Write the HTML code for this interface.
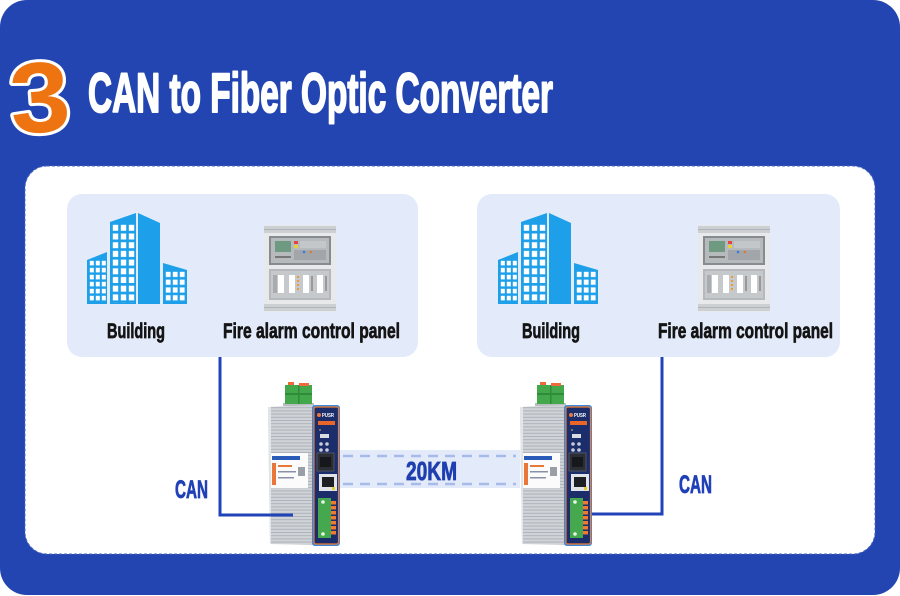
<!DOCTYPE html>
<html><head><meta charset="utf-8"><style>
html,body{margin:0;padding:0;background:#fff;}
svg{display:block;}
text{font-family:"Liberation Sans",Arial,sans-serif;font-weight:bold;}
</style></head><body>
<svg width="900" height="596" viewBox="0 0 900 596" xmlns="http://www.w3.org/2000/svg">
<defs>
  <pattern id="winA" patternUnits="userSpaceOnUse" x="2" y="48" width="6" height="7"><rect x="0.8" y="0.8" width="4" height="4.6" fill="#fff"/></pattern>
  <pattern id="winB" patternUnits="userSpaceOnUse" x="25" y="12" width="8" height="8.7"><rect x="0.8" y="0.8" width="5.4" height="6" fill="#fff"/></pattern>
  <pattern id="winC" patternUnits="userSpaceOnUse" x="78" y="59" width="7" height="7.8"><rect x="0.8" y="0.8" width="4.8" height="5.2" fill="#fff"/></pattern>
  <pattern id="fin" patternUnits="userSpaceOnUse" width="4" height="3.2"><rect width="4" height="3.2" fill="#d0d4d9"/><rect y="2.2" width="4" height="1" fill="#adb2b8"/></pattern>

  <g id="bld">
    <polygon points="0,48 20,40 20,92 0,92" fill="#1d9fe9"/>
    <rect x="2" y="48" width="17" height="42" fill="url(#winA)"/>
    <polygon points="23,10 49,1 49,92 23,92" fill="#1d9fe9"/>
    <rect x="25" y="12" width="23" height="79" fill="url(#winB)"/>
    <polygon points="51,1 73,11 73,92 51,92" fill="#1d9fe9"/>
    <polygon points="76,51 100,58 100,92 76,92" fill="#1d9fe9"/>
    <rect x="78" y="59" width="21" height="31" fill="url(#winC)"/>
  </g>

  <g id="fap">
    <rect x="0" y="0" width="72" height="87" fill="#e8e9ea"/>
    <rect x="0" y="1" width="72" height="7" fill="#cdd0d3"/>
    <rect x="0" y="4" width="72" height="1" fill="#b0b4b7"/>
    <rect x="0" y="79" width="72" height="7" fill="#cdd0d3"/>
    <rect x="0" y="82" width="72" height="1" fill="#b0b4b7"/>
    <rect x="5" y="11" width="62" height="29" fill="#868b90"/>
    <rect x="7" y="13" width="58" height="25" fill="#b6babd"/>
    <rect x="11" y="16" width="16" height="11" fill="#6e9a82"/>
    <rect x="30" y="16" width="4" height="3" fill="#e64444"/>
    <rect x="30" y="20" width="4" height="3" fill="#e8cf3c"/>
    <rect x="36" y="16" width="26" height="7" fill="#c4c7ca"/>
    <rect x="30" y="25" width="32" height="10" fill="#a2a6aa"/>
    <circle cx="40" cy="27" r="1.3" fill="#3a7ad8"/>
    <circle cx="47" cy="27" r="1.3" fill="#e07a30"/>
    <rect x="11" y="31" width="16" height="2" fill="#777"/>
    <rect x="5" y="44" width="62" height="31" fill="#b5b9bd"/>
    <rect x="7" y="46" width="58" height="27" fill="#c6c9cc"/>
    <rect x="9" y="50" width="4" height="18" fill="#a8acb0"/>
    <rect x="14" y="50" width="6" height="18" fill="#fff"/>
    <rect x="25" y="50" width="6" height="18" fill="#fff"/>
    <rect x="33" y="51" width="2" height="2" fill="#f09a30"/>
    <rect x="33" y="55" width="2" height="2" fill="#f09a30"/>
    <rect x="33" y="59" width="2" height="2" fill="#f09a30"/>
    <rect x="33" y="63" width="2" height="2" fill="#f09a30"/>
    <rect x="39" y="50" width="6" height="18" fill="#fff"/>
    <rect x="47" y="51" width="2" height="15" fill="#999"/>
    <rect x="53" y="50" width="6" height="18" fill="#fff"/>
    <rect x="61" y="51" width="2" height="15" fill="#999"/>
  </g>

  <g id="dev">
    <rect x="15" y="-2" width="31" height="3" fill="#b9bcc0"/>
    <rect x="17" y="-20" width="27" height="19" fill="#42a84b"/>
    <rect x="17" y="-12" width="27" height="2" fill="#2f8a3a"/>
    <rect x="30" y="-20" width="1.5" height="19" fill="#2f8a3a"/>
    <rect x="20" y="-23" width="6" height="3" fill="#ef6a3a"/>
    <rect x="31" y="-22" width="10" height="3" fill="#ef6a3a"/>
    <path d="M0,2 L45,0 L45,140 L2,139 Z" fill="url(#fin)"/>
    <path d="M0,2 L3,2 L3,139 L2,139 Z" fill="#e2e5e8"/>
    <rect x="3" y="48" width="37" height="35" fill="#fbfbfb"/>
    <rect x="4" y="51" width="28" height="4" fill="#2a5bb8"/>
    <rect x="4" y="58" width="4" height="22" fill="#e9773a"/>
    <rect x="10" y="60" width="14" height="2" fill="#e9773a"/>
    <rect x="10" y="66" width="18" height="1.5" fill="#8a8fa8"/>
    <rect x="10" y="72" width="16" height="1.5" fill="#8a8fa8"/>
    <rect x="30" y="62" width="7" height="9" fill="#9a9ea6"/>
    <rect x="44" y="0" width="28" height="141" rx="3" fill="#3e86d8"/>
    <rect x="46" y="2" width="24.5" height="137" rx="2" fill="#1b2d6b" stroke="#ef7b2c" stroke-width="1.2"/>
    <circle cx="51" cy="10" r="2" fill="#e9773a"/>
    <text x="54" y="12" font-size="5.5" fill="#fff" textLength="12" lengthAdjust="spacingAndGlyphs">PUSR</text>
    <rect x="50" y="16" width="17" height="4" fill="#e8662a"/>
    <circle cx="52" cy="25" r="1" fill="#888"/>
    <rect x="52" y="29" width="9" height="4" fill="#d9dde2"/>
    <circle cx="53" cy="39" r="1.8" fill="#c9cdd8"/>
    <circle cx="59" cy="39" r="1.8" fill="#c9cdd8"/>
    <circle cx="53" cy="45" r="1.8" fill="#c9cdd8"/>
    <circle cx="59" cy="45" r="1.8" fill="#c9cdd8"/>
    <rect x="49" y="48" width="17" height="18" fill="#2b2e35" stroke="#5a5e66" stroke-width="0.8"/>
    <rect x="52" y="52" width="11" height="10" fill="#16181c"/>
    <rect x="51" y="69" width="18" height="17" fill="#e0e3e7"/>
    <rect x="54" y="72" width="12" height="10" fill="#1d1f22"/>
    <rect x="64" y="82" width="3" height="3" fill="#e4cd2a"/>
    <rect x="50" y="93" width="13" height="40" fill="#46a84e"/>
    <circle cx="55" cy="97" r="1.8" fill="#e8f5e8"/>
    <circle cx="55" cy="129" r="1.8" fill="#e8f5e8"/>
    <rect x="63" y="96" width="5" height="3.5" fill="#f07a30"/>
    <rect x="63" y="101" width="5" height="3.5" fill="#f07a30"/>
    <rect x="63" y="106" width="5" height="3.5" fill="#f07a30"/>
    <rect x="63" y="111" width="5" height="3.5" fill="#f07a30"/>
    <rect x="63" y="116" width="5" height="3.5" fill="#f07a30"/>
    <rect x="63" y="121" width="5" height="3.5" fill="#f07a30"/>
    <rect x="63" y="126" width="5" height="3.5" fill="#f07a30"/>
  </g>
</defs>

<!-- outer blue -->
<rect x="0" y="0" width="900" height="595" rx="27" fill="#2245b1"/>

<!-- number 3 -->
<text x="10" y="132" font-size="100" fill="#ee7412" stroke="#fff" stroke-width="6" stroke-linejoin="round" paint-order="stroke" textLength="60" lengthAdjust="spacingAndGlyphs" transform="rotate(-4 40 100)">3</text>

<!-- title -->
<text x="88" y="112" font-size="56" fill="#fff" stroke="#fff" stroke-width="2" stroke-linejoin="round" textLength="465" lengthAdjust="spacingAndGlyphs">CAN to Fiber Optic Converter</text>

<!-- inner white area -->
<rect x="25" y="166" width="850" height="388" rx="22" fill="#fff" stroke="#4a68c4" stroke-width="1" stroke-dasharray="3 2"/>

<!-- panels -->
<rect x="67" y="194" width="351" height="163" rx="15" fill="#e3ebfb"/>
<rect x="477" y="194" width="363" height="163" rx="15" fill="#e3ebfb"/>

<use href="#bld" transform="translate(87 212)"/>
<use href="#bld" transform="translate(498 212)"/>
<use href="#fap" transform="translate(264 225)"/>
<use href="#fap" transform="translate(698 225)"/>

<g fill="#141414" stroke="#141414" stroke-width="0.7" stroke-linejoin="round">
<text x="107" y="338" font-size="21" textLength="58" lengthAdjust="spacingAndGlyphs">Building</text>
<text x="223" y="338" font-size="21" textLength="177" lengthAdjust="spacingAndGlyphs">Fire alarm control panel</text>
<text x="522" y="338" font-size="21" textLength="58" lengthAdjust="spacingAndGlyphs">Building</text>
<text x="658" y="338" font-size="21" textLength="175" lengthAdjust="spacingAndGlyphs">Fire alarm control panel</text>
</g>

<!-- 20KM band -->
<rect x="338" y="450" width="182" height="38" fill="#e3ebfb"/>
<line x1="343" y1="456" x2="516" y2="456" stroke="#a7bae8" stroke-width="2.5" stroke-dasharray="10 7"/>
<line x1="343" y1="484" x2="516" y2="484" stroke="#a7bae8" stroke-width="2.5" stroke-dasharray="10 7"/>
<text x="406" y="480" font-size="26" fill="#1f3fb0" stroke="#1f3fb0" stroke-width="0.8" textLength="51" lengthAdjust="spacingAndGlyphs">20KM</text>

<!-- right connector (behind device) -->
<polyline points="662,357 662,514 585,514" fill="none" stroke="#2143b8" stroke-width="3"/>

<!-- devices -->
<use href="#dev" transform="translate(268 405)"/>
<use href="#dev" transform="translate(520 405)"/>

<!-- left connector -->
<polyline points="220,357 220,515 293,515" fill="none" stroke="#2143b8" stroke-width="3"/>

<!-- CAN labels -->
<g fill="#1f40b8" stroke="#1f40b8" stroke-width="0.8">
<text x="175" y="498" font-size="25" textLength="33" lengthAdjust="spacingAndGlyphs">CAN</text>
<text x="679" y="493" font-size="25" textLength="33" lengthAdjust="spacingAndGlyphs">CAN</text>
</g>
</svg>
</body></html>
